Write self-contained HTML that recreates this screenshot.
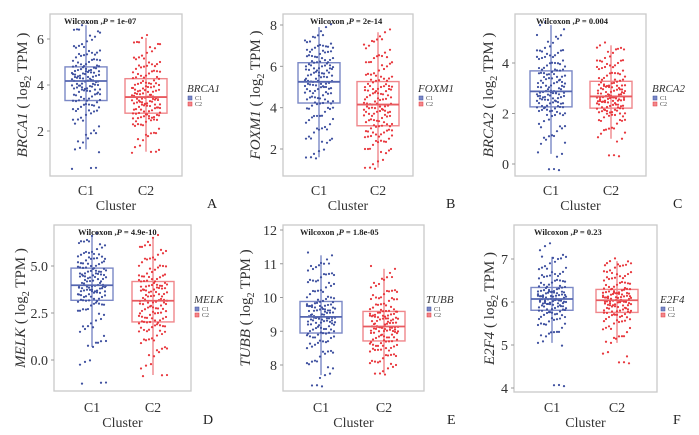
<!DOCTYPE html>
<html><head><meta charset="utf-8">
<style>
html,body{margin:0;padding:0;background:#fff;}
svg{display:block;font-family:"Liberation Serif",serif;}
</style></head>
<body>
<svg id="fig" width="699" height="435" viewBox="0 0 699 435"></svg>
<script>
// ---- data ----
const categories = ["C1","C2"];
const genes = ["BRCA1","FOXM1","BRCA2","MELK","TUBB","E2F4"];
const panelLetters = ["A","B","C","D","E","F"];
const pValueLabels = ["1e-07","2e-14","0.004","4.9e-10","1.8e-05","0.23"];
const ticksA = [2,4,6];
const ticksB = [2,4,6,8];
const ticksC = [0,2,4];
const ticksD = [0.0,2.5,5.0];
const ticksE = [8,9,10,11,12];
const ticksF = [4,5,6,7];
const A_C1 = [0.4,1.2,1.5,1.9,2.2,2.5,2.7,2.85,2.95,3.05,3.15,3.25,3.3,3.4,3.5,3.6,3.7,3.75,3.8,3.85,3.9,3.95,4.0,4.05,4.15,4.2,4.25,4.3,4.35,4.4,4.45,4.5,4.55,4.6,4.65,4.7,4.75,4.8,4.9,5.0,5.1,5.2,5.3,5.4,5.5,5.7,5.9,6.1,6.4,6.6];
const A_C2 = [1.1,1.3,1.6,1.9,2.1,2.3,2.4,2.5,2.55,2.6,2.65,2.7,2.75,2.85,2.9,3.0,3.05,3.1,3.15,3.2,3.25,3.3,3.35,3.4,3.45,3.5,3.55,3.6,3.7,3.75,3.8,3.85,3.9,4.0,4.05,4.1,4.2,4.3,4.4,4.5,4.6,4.7,4.8,4.9,5.0,5.2,5.4,5.6,5.85,6.05];
const B_C1 = [1.6,1.9,2.3,2.5,2.8,3.0,3.2,3.4,3.6,3.8,4.0,4.1,4.2,4.3,4.4,4.5,4.6,4.7,4.8,4.9,5.0,5.05,5.1,5.15,5.2,5.3,5.4,5.5,5.55,5.6,5.7,5.8,5.85,5.9,6.0,6.05,6.1,6.2,6.3,6.4,6.5,6.6,6.7,6.8,6.9,7.0,7.1,7.2,7.5,7.9];
const B_C2 = [1.1,1.4,1.8,2.0,2.2,2.4,2.5,2.6,2.7,2.8,2.9,3.0,3.1,3.2,3.3,3.4,3.5,3.6,3.7,3.8,3.85,3.9,4.0,4.05,4.1,4.2,4.3,4.4,4.5,4.6,4.7,4.8,4.85,4.9,5.0,5.05,5.15,5.3,5.4,5.5,5.6,5.8,6.0,6.2,6.4,6.5,6.8,7.0,7.3,7.65];
const C_C1 = [-0.2,0.4,0.8,1.1,1.3,1.5,1.7,1.9,2.0,2.1,2.15,2.2,2.25,2.3,2.4,2.45,2.5,2.55,2.6,2.65,2.7,2.75,2.8,2.82,2.85,2.9,3.0,3.05,3.1,3.2,3.25,3.3,3.4,3.45,3.5,3.6,3.65,3.7,3.8,3.9,4.0,4.1,4.2,4.3,4.4,4.5,4.6,4.8,5.1,5.5];
const C_C2 = [0.35,1.0,1.2,1.4,1.6,1.75,1.85,1.95,2.0,2.05,2.1,2.15,2.2,2.25,2.3,2.35,2.4,2.45,2.5,2.52,2.55,2.58,2.6,2.62,2.65,2.7,2.75,2.8,2.85,2.9,2.95,3.0,3.05,3.1,3.12,3.15,3.2,3.3,3.4,3.5,3.6,3.7,3.8,3.9,4.0,4.1,4.2,4.4,4.6,4.7];
const D_C1 = [-1.2,-0.1,0.7,1.0,1.5,1.8,2.1,2.4,2.7,2.9,3.0,3.1,3.15,3.25,3.35,3.45,3.5,3.6,3.65,3.7,3.75,3.8,3.85,3.9,3.95,4.0,4.1,4.2,4.3,4.4,4.45,4.5,4.55,4.6,4.7,4.75,4.85,4.9,5.0,5.1,5.2,5.3,5.4,5.5,5.6,5.7,5.9,6.1,6.3,6.6];
const D_C2 = [-0.8,-0.3,0.2,0.6,0.9,1.1,1.3,1.5,1.6,1.75,1.85,1.95,2.0,2.1,2.2,2.3,2.4,2.5,2.6,2.7,2.8,2.9,3.0,3.05,3.1,3.2,3.3,3.4,3.5,3.6,3.7,3.75,3.8,3.9,3.95,4.0,4.1,4.2,4.3,4.4,4.5,4.6,4.8,5.0,5.2,5.4,5.6,5.8,6.1,6.5];
const E_C1 = [7.4,7.7,7.9,8.1,8.25,8.4,8.5,8.6,8.7,8.8,8.85,8.9,8.93,9.0,9.05,9.1,9.15,9.2,9.25,9.3,9.32,9.35,9.37,9.39,9.4,9.45,9.5,9.55,9.6,9.62,9.65,9.7,9.72,9.75,9.78,9.8,9.83,9.9,10.0,10.1,10.2,10.3,10.4,10.5,10.6,10.7,10.8,10.9,11.0,11.25];
const E_C2 = [7.75,7.9,8.0,8.1,8.2,8.3,8.4,8.45,8.5,8.55,8.6,8.65,8.7,8.75,8.8,8.85,8.9,8.95,9.0,9.02,9.05,9.08,9.1,9.11,9.13,9.15,9.2,9.25,9.3,9.35,9.38,9.4,9.43,9.46,9.5,9.52,9.55,9.6,9.65,9.7,9.8,9.9,9.95,10.0,10.1,10.2,10.3,10.4,10.6,10.85];
const F_C1 = [4.07,5.05,5.2,5.3,5.4,5.5,5.55,5.6,5.65,5.7,5.75,5.78,5.8,5.83,5.86,5.9,5.92,5.95,5.97,6.0,6.01,6.02,6.03,6.04,6.06,6.08,6.1,6.12,6.14,6.16,6.18,6.2,6.22,6.24,6.26,6.28,6.3,6.35,6.4,6.45,6.5,6.55,6.6,6.65,6.7,6.8,6.9,7.0,7.05,7.3];
const F_C2 = [4.6,4.8,5.05,5.2,5.3,5.4,5.5,5.55,5.6,5.65,5.7,5.72,5.75,5.78,5.8,5.83,5.86,5.9,5.92,5.95,5.97,5.99,6.0,6.01,6.03,6.05,6.07,6.09,6.11,6.13,6.15,6.17,6.19,6.21,6.23,6.25,6.27,6.3,6.35,6.4,6.45,6.5,6.55,6.6,6.65,6.7,6.8,6.85,6.9,6.95];

// ---- layout (pixels) ----
const layout = [
 {fx0:50,fx1:182,fy0:14,fy1:176,t0:[2,131],t1:[6,39],c1:86,c2:146,ty:22,wil:14,lx:187,ly:92,letx:207,lety:208,cy:195,xly:210},
 {fx0:283,fx1:413,fy0:14,fy1:176,t0:[2,149],t1:[8,25],c1:319,c2:378,ty:255,wil:27,lx:418,ly:92,letx:446,lety:208,cy:195,xly:210},
 {fx0:515,fx1:646,fy0:14,fy1:176,t0:[0,164],t1:[4,63],c1:551,c2:611,ty:488,wil:21,lx:652,ly:92,letx:673,lety:208,cy:195,xly:210},
 {fx0:54,fx1:191,fy0:225,fy1:391,t0:[0,360],t1:[5,266],c1:92,c2:153,ty:20,wil:24,lx:194,ly:303,letx:203,lety:424,cy:412,xly:427},
 {fx0:283,fx1:424,fy0:225,fy1:391,t0:[8,365],t1:[12,230],c1:321,c2:384,ty:245,wil:17,lx:426,ly:303,letx:447,lety:424,cy:412,xly:427},
 {fx0:514,fx1:657,fy0:225,fy1:392,t0:[4,388],t1:[7,259],c1:552,c2:617,ty:489,wil:20,lx:660,ly:303,letx:673,lety:424,cy:412,xly:427}
];
const tickSets=[ticksA,ticksB,ticksC,ticksD,ticksE,ticksF];
const series=[[A_C1,A_C2],[B_C1,B_C2],[C_C1,C_C2],[D_C1,D_C2],[E_C1,E_C2],[F_C1,F_C2]];
const NS="http://www.w3.org/2000/svg";
const svg=document.getElementById('fig');
const dotCol=["#3d4f9f","#e8363c"], boxCol=["#7b88c6","#f0878b"], medCol=["#5566b0","#e85a5f"];
function mk(tag,attrs,parent){const e=document.createElementNS(NS,tag);for(const k in attrs)e.setAttribute(k,attrs[k]);(parent||svg).appendChild(e);return e;}
function quant(s,p){const i=(s.length-1)*p,lo=Math.floor(i),hi=Math.ceil(i);return s[lo]+(s[hi]-s[lo])*(i-lo);}
function stats(v){const s=[...v].sort((a,b)=>a-b);const q1=quant(s,.25),md=quant(s,.5),q3=quant(s,.75),iqr=q3-q1;
 const lo=s.find(x=>x>=q1-1.5*iqr),hi=[...s].reverse().find(x=>x<=q3+1.5*iqr);return{q1,md,q3,lo,hi};}

layout.forEach((L,p)=>{
 const g=mk('g',{});
 
 
 const k=(L.t1[1]-L.t0[1])/(L.t1[0]-L.t0[0]);
 const y=v=>L.t0[1]+(v-L.t0[0])*k;
 const xs=[L.c1,L.c2];
 const fr=mk('rect',{x:L.fx0,y:L.fy0,width:L.fx1-L.fx0,height:L.fy1-L.fy0,fill:'none',stroke:'#c9c9c9','stroke-width':1.3},g);
 
 
 tickSets[p].forEach(t=>{
  const yy=y(t);
  const tl=mk('line',{x1:L.fx0-3,x2:L.fx0,y1:yy,y2:yy,stroke:'#999'},g);
  
  
  const tx=mk('text',{x:L.fx0-6,y:yy+5,'text-anchor':'end','font-size':14,fill:'#333'},g);
  tx.textContent=(p===3?t.toFixed(1):String(t));
  
  
 });
 const yt=mk('text',{x:0,y:0,'font-size':15,fill:'#333','text-anchor':'middle',transform:`translate(${L.ty+5},${(L.fy0+L.fy1)/2}) rotate(-90)`},g);
 
 
 const ts1=mk('tspan',{'font-style':'italic'},yt);ts1.textContent=genes[p];
 const ts2=mk('tspan',{},yt);ts2.textContent=' ( log';
 const ts3=mk('tspan',{'font-size':10,dy:4},yt);ts3.textContent='2';
 const ts4=mk('tspan',{dy:-4},yt);ts4.textContent=' TPM )';
 series[p].forEach((vals,c)=>{
  const st=stats(vals), cx=xs[c], hw=21;
  const wl=mk('line',{x1:cx,x2:cx,y1:y(st.lo),y2:y(st.hi),stroke:boxCol[c],'stroke-width':1.4},g);
  
  
  const bx=mk('rect',{x:cx-hw,y:y(st.q3),width:2*hw,height:y(st.q1)-y(st.q3),fill:'rgba(255,255,255,0)',stroke:boxCol[c],'stroke-width':1.4},g);
  
  
  vals.forEach((v,i)=>{
   for(let r=0;r<3;r++){
    const j=(((i*37+r*53+p*11)%29)/28-0.5)*28;
    const oy=(r-1)*((((i*7+r*3)%5)-2)*1.3+1.5);
    const d=mk('circle',{cx:cx+j,cy:y(v)+oy,r:1.1,fill:dotCol[c]},g);
    
    
   }
  });
  const ml=mk('line',{x1:cx-hw,x2:cx+hw,y1:y(st.md),y2:y(st.md),stroke:medCol[c],'stroke-width':1.8},g);
  
  
  const cl=mk('text',{x:cx,y:L.cy,'text-anchor':'middle','font-size':14,fill:'#333'},g);
  cl.textContent=categories[c];
  
  
 });
 const xt=mk('text',{x:(L.fx0+L.fx1)/2,y:L.xly,'text-anchor':'middle','font-size':14,fill:'#333'},g);
 xt.textContent='Cluster';
 
 
 const wt=mk('text',{x:L.fx0+L.wil,y:L.fy0+10,'font-size':8.5,'font-weight':'bold',fill:'#222'},g);
 
 
 const w1=mk('tspan',{},wt);w1.textContent='Wilcoxon ,';
 const w2=mk('tspan',{'font-style':'italic'},wt);w2.textContent='P';
 const w3=mk('tspan',{},wt);w3.textContent=' = '+pValueLabels[p];
 const lg=mk('g',{},g);
 
 
 const lt=mk('text',{x:L.lx,y:L.ly,'font-size':11,'font-style':'italic',fill:'#333'},lg);
 lt.textContent=genes[p];
 
 
 categories.forEach((c,i)=>{
  const ky=L.ly+6+i*6;
  const sq=mk('rect',{x:L.lx+1,y:ky-2,width:4,height:4,fill:boxCol[i],stroke:dotCol[i],'stroke-width':0.5},lg);
  
  
  const tx=mk('text',{x:L.lx+8,y:ky+2,'font-size':6,fill:'#444'},lg);
  tx.textContent=c;
  
  
 });
 const lt2=mk('text',{x:L.letx,y:L.lety,'font-size':14,fill:'#222'},g);
 lt2.textContent=panelLetters[p];
 
 
});
</script>
</body></html>
